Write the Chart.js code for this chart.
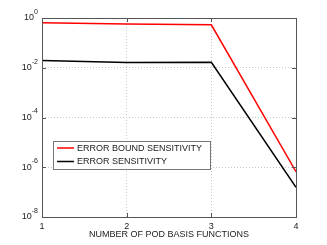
<!DOCTYPE html>
<html>
<head>
<meta charset="utf-8">
<script src="https://cdn.jsdelivr.net/npm/chart.js@4/dist/chart.umd.min.js"></script>
<style>
  html, body { margin: 0; padding: 0; background: #fff; }
  #wrap { width: 327px; height: 245px; }
</style>
</head>
<body>
<div id="wrap"><canvas id="c" width="327" height="245"></canvas></div>
<script>
var podCounts = [1, 2, 3, 4];
var boundSensitivity = [0.64, 0.58, 0.53, 6.6e-7];
var errorSensitivity = [0.0195, 0.0162, 0.0165, 1.56e-7];
var seriesLabels = ['ERROR BOUND SENSITIVITY', 'ERROR SENSITIVITY'];
var yTickValues = [1e-8, 1e-6, 1e-4, 1e-2, 1];
var xTitle = 'NUMBER OF POD BASIS FUNCTIONS';

var font = 'Liberation Sans, Arial, Helvetica, sans-serif';

function points(ys) {
  return podCounts.map(function (x, i) { return { x: x, y: ys[i] }; });
}

// axis box, inward ticks, y labels with exponents, legend inside plot
var matlabAxes = {
  id: 'matlabAxes',
  afterDraw: function (chart) {
    var ctx = chart.ctx, a = chart.chartArea;
    var xs = chart.scales.x, ys = chart.scales.y;
    ctx.save();
    ctx.strokeStyle = '#555';
    ctx.lineWidth = 1;
    ctx.strokeRect(Math.round(a.left) + 0.5, Math.round(a.top) + 0.5,
      Math.round(a.right - a.left), Math.round(a.bottom - a.top));

    ctx.beginPath();
    podCounts.forEach(function (v) {
      var px = Math.round(xs.getPixelForValue(v)) + 0.5;
      ctx.moveTo(px, a.bottom); ctx.lineTo(px, a.bottom - 4);
      ctx.moveTo(px, a.top); ctx.lineTo(px, a.top + 4);
    });
    yTickValues.forEach(function (v) {
      var py = Math.round(ys.getPixelForValue(v)) + 0.5;
      ctx.moveTo(a.left, py); ctx.lineTo(a.left + 4, py);
      ctx.moveTo(a.right, py); ctx.lineTo(a.right - 4, py);
    });
    ctx.stroke();

    ctx.fillStyle = '#222';
    ctx.textBaseline = 'middle';
    yTickValues.forEach(function (v) {
      var py = ys.getPixelForValue(v);
      var exp = String(Math.round(Math.log10(v)));
      ctx.font = '7px ' + font;
      ctx.textAlign = 'left';
      var ew = ctx.measureText(exp).width;
      var ex = a.left - 4 - ew;
      ctx.fillText(exp, ex, py - 6);
      ctx.font = '9px ' + font;
      ctx.textAlign = 'right';
      ctx.fillText('10', ex, py);
    });

    // legend
    var lx = 53, ly = 141, lw = 157, lh = 28;
    ctx.fillStyle = '#fff';
    ctx.fillRect(lx, ly, lw, lh);
    ctx.strokeStyle = '#777';
    ctx.strokeRect(lx + 0.5, ly + 0.5, lw, lh);
    ctx.font = '9px ' + font;
    ctx.textAlign = 'left';
    chart.data.datasets.forEach(function (ds, i) {
      var ry = ly + 7 + i * 13.5;
      ctx.strokeStyle = ds.borderColor;
      ctx.lineWidth = 1.5;
      ctx.beginPath();
      ctx.moveTo(lx + 4, ry); ctx.lineTo(lx + 21, ry);
      ctx.stroke();
      ctx.fillStyle = '#222';
      ctx.fillText(ds.label, lx + 24, ry + 0.5);
    });
    ctx.restore();
  }
};

new Chart(document.getElementById('c'), {
  type: 'line',
  data: {
    datasets: [
      { label: seriesLabels[0], data: points(boundSensitivity), borderColor: '#ff0000', borderWidth: 1.5, pointRadius: 0, tension: 0 },
      { label: seriesLabels[1], data: points(errorSensitivity), borderColor: '#000000', borderWidth: 1.5, pointRadius: 0, tension: 0 }
    ]
  },
  options: {
    responsive: false,
    animation: false,
    devicePixelRatio: 1,
    layout: { padding: { top: 18, right: 31, left: 0, bottom: 0 } },
    plugins: { legend: { display: false }, tooltip: { enabled: false } },
    scales: {
      x: {
        type: 'linear', min: 1, max: 4,
        ticks: { stepSize: 1, color: '#222', font: { family: font, size: 9 }, padding: 4 },
        grid: {
          drawTicks: false,
          color: function (c) { return (c.tick && (c.tick.value === 1 || c.tick.value === 4)) ? 'rgba(0,0,0,0)' : '#c8c8c8'; }
        },
        border: { display: false, dash: [1, 2] },
        title: { display: true, text: xTitle, color: '#222', font: { family: font, size: 9 }, padding: { top: 0, bottom: 5 } },
        afterFit: function (s) { s.height = 28; }
      },
      y: {
        type: 'logarithmic', min: 1e-8, max: 1,
        afterBuildTicks: function (s) { s.ticks = yTickValues.map(function (v) { return { value: v }; }); },
        ticks: { display: false },
        grid: {
          drawTicks: false,
          color: function (c) { return (c.tick && (c.tick.value === 1 || c.tick.value === 1e-8)) ? 'rgba(0,0,0,0)' : '#c8c8c8'; }
        },
        border: { display: false, dash: [1, 2] },
        afterFit: function (s) { s.width = 42; }
      }
    }
  },
  plugins: [matlabAxes]
});
</script>
</body>
</html>
